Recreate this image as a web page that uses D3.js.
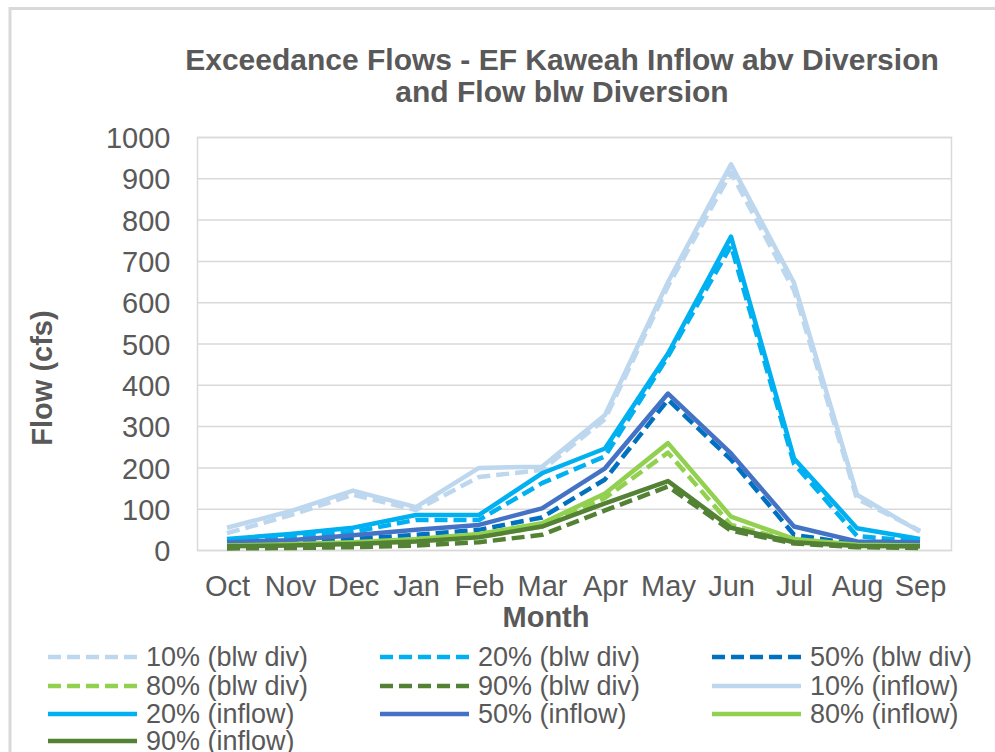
<!DOCTYPE html>
<html>
<head>
<meta charset="utf-8">
<script src="https://d3js.org/d3.v7.min.js"></script>
<style>
  body { margin: 0; background: #fff; }
  text { font-family: "Liberation Sans", Arial, sans-serif; fill: #595959; }
</style>
</head>
<body>
<script>
// datos
var meses = ["Oct", "Nov", "Dec", "Jan", "Feb", "Mar", "Apr", "May", "Jun", "Jul", "Aug", "Sep"];
var ticksY = [0, 100, 200, 300, 400, 500, 600, 700, 800, 900, 1000];

var blw10 = [42, 85, 135, 98, 178, 195, 318, 640, 915, 630, 125, 48];
var blw20 = [22, 32, 45, 74, 74, 163, 228, 470, 738, 210, 35, 22];
var blw50 = [15, 18, 28, 38, 50, 80, 172, 365, 220, 38, 15, 14];
var blw80 = [10, 12, 16, 23, 33, 58, 127, 237, 62, 22, 12, 10];
var blw90 = [5, 6, 8, 12, 20, 38, 97, 155, 48, 17, 8, 6];
var inflow10 = [55, 95, 145, 105, 200, 203, 328, 650, 935, 648, 135, 45];
var inflow20 = [28, 40, 55, 86, 86, 187, 247, 477, 760, 223, 54, 28];
var inflow50 = [20, 25, 37, 50, 62, 102, 199, 380, 235, 58, 22, 20];
var inflow80 = [12, 15, 20, 28, 40, 66, 138, 260, 82, 28, 14, 12];
var inflow90 = [10, 12, 16, 22, 32, 58, 114, 168, 55, 20, 11, 10];

var nombres = ["10% (blw div)", "20% (blw div)", "50% (blw div)", "80% (blw div)", "90% (blw div)",
               "10% (inflow)", "20% (inflow)", "50% (inflow)", "80% (inflow)", "90% (inflow)"];
var valores = [blw10, blw20, blw50, blw80, blw90, inflow10, inflow20, inflow50, inflow80, inflow90];
var colores = ["#BDD7EE", "#00B0F0", "#0070C0", "#92D050", "#548235",
               "#BDD7EE", "#00B0F0", "#4472C4", "#92D050", "#548235"];
var discontinua = [true, true, true, true, true, false, false, false, false, false];

var series = nombres.map(function (n, i) {
    return { nombre: n, valores: valores[i], color: colores[i], dash: discontinua[i] };
});

var width = 995, height = 752;
var margin = { top: 137.5, bottom: 550.5, left: 197.5, right: 951.5 };

var svg = d3.select("body").append("svg")
    .attr("width", width)
    .attr("height", height);

// marco del grafico
svg.append("rect")
    .attr("x", 10).attr("y", 8.5)
    .attr("width", 1000).attr("height", 800)
    .attr("fill", "none")
    .attr("stroke", "#D9D9D9")
    .attr("stroke-width", 3);

var escalaX = d3.scalePoint()
    .domain(meses)
    .range([margin.left - 2, margin.right])
    .padding(0.5);

var escalaY = d3.scaleLinear()
    .domain([0, 1000])
    .range([margin.bottom, margin.top]);

// rejilla
svg.append("g")
    .selectAll("line")
    .data(ticksY)
    .join("line")
    .attr("x1", margin.left).attr("x2", margin.right)
    .attr("y1", d => escalaY(d)).attr("y2", d => escalaY(d))
    .attr("stroke", "#D9D9D9")
    .attr("stroke-width", 1.5);

// borde del area de trazado
svg.append("rect")
    .attr("x", margin.left).attr("y", margin.top)
    .attr("width", margin.right - margin.left)
    .attr("height", margin.bottom - margin.top)
    .attr("fill", "none")
    .attr("stroke", "#D9D9D9")
    .attr("stroke-width", 1.5);

// ejes
var ejeY = d3.axisLeft(escalaY).tickValues(ticksY).tickFormat(d3.format("d")).tickSize(0).tickPadding(27);
var gY = svg.append("g")
    .attr("transform", "translate(" + margin.left + ",0)")
    .call(ejeY);
gY.select(".domain").remove();
gY.selectAll("text")
    .style("font-size", "29px")
    .attr("fill", "#595959")
    .attr("dy", "0.35em");

var ejeX = d3.axisBottom(escalaX).tickSize(0).tickPadding(25);
var gX = svg.append("g")
    .attr("transform", "translate(0," + margin.bottom + ")")
    .call(ejeX);
gX.select(".domain").remove();
gX.selectAll("text")
    .style("font-size", "29px")
    .attr("fill", "#595959");

// titulos
svg.append("text")
    .attr("x", 562).attr("y", 70)
    .attr("text-anchor", "middle")
    .style("font-size", "30px")
    .style("font-weight", "bold")
    .text("Exceedance Flows - EF Kaweah Inflow abv Diversion");

svg.append("text")
    .attr("x", 562).attr("y", 102)
    .attr("text-anchor", "middle")
    .style("font-size", "30px")
    .style("font-weight", "bold")
    .text("and Flow blw Diversion");

svg.append("text")
    .attr("x", 546).attr("y", 627)
    .attr("text-anchor", "middle")
    .style("font-size", "29px")
    .style("font-weight", "bold")
    .text("Month");

svg.append("text")
    .attr("transform", "translate(52,378) rotate(-90)")
    .attr("text-anchor", "middle")
    .style("font-size", "29px")
    .style("font-weight", "bold")
    .text("Flow (cfs)");

// lineas
var linea = d3.line()
    .x((d, i) => escalaX(meses[i]))
    .y(d => escalaY(d));

svg.append("g")
    .selectAll("path")
    .data(series)
    .join("path")
    .attr("d", d => linea(d.valores))
    .attr("fill", "none")
    .attr("stroke", d => d.color)
    .attr("stroke-width", 4.5)
    .attr("stroke-linejoin", "round")
    .attr("stroke-dasharray", d => d.dash ? "13,6" : null);

// leyenda
var colX = [48, 380, 712];
var filaY = [657, 686, 714, 741];

var leyenda = svg.append("g")
    .selectAll("g")
    .data(series)
    .join("g")
    .attr("transform", (d, i) => "translate(" + colX[i % 3] + "," + filaY[Math.floor(i / 3)] + ")");

leyenda.append("line")
    .attr("x1", 0).attr("x2", 89)
    .attr("y1", 0).attr("y2", 0)
    .attr("stroke", d => d.color)
    .attr("stroke-width", 4.5)
    .attr("stroke-dasharray", d => d.dash ? "13,6" : null);

leyenda.append("text")
    .attr("x", 98).attr("y", 0)
    .attr("dy", "0.35em")
    .style("font-size", "27px")
    .text(d => d.nombre);
</script>
</body>
</html>
